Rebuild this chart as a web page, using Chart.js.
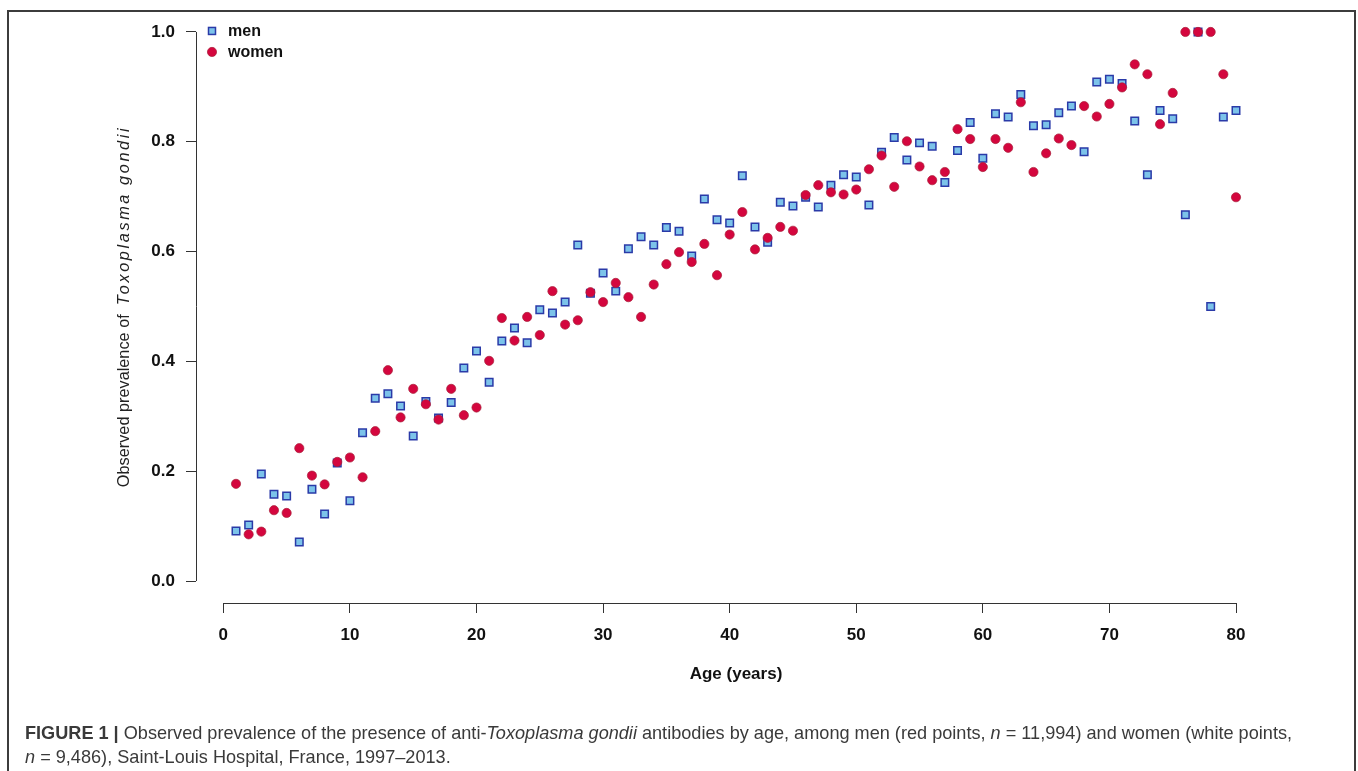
<!DOCTYPE html>
<html>
<head>
<meta charset="utf-8">
<script src="https://cdn.jsdelivr.net/npm/chart.js@4/dist/chart.umd.min.js"></script>
<style>
html,body{margin:0;padding:0;background:#fff;width:1358px;height:771px;overflow:hidden;}
#frame{position:absolute;left:7px;top:10px;width:1349px;height:800px;border:2px solid #3c3c3c;box-sizing:border-box;}
#c{position:absolute;left:0;top:0;}
#cap{position:absolute;left:25px;top:721px;font-family:"Liberation Sans",Arial,sans-serif;font-size:16px;color:#3a3a3a;line-height:24px;white-space:nowrap;}
</style>
</head>
<body>
<div id="frame"></div>
<canvas id="c" width="1358" height="771"></canvas>
<div id="cap"><span id="l1"><b>FIGURE 1 |</b> Observed prevalence of the presence of anti-<i>Toxoplasma gondii</i> antibodies by age, among men (red points, <i>n</i> = 11,994) and women (white points,</span><br><span id="l2"><i>n</i> = 9,486), Saint-Louis Hospital, France, 1997–2013.</span></div>
<script>
// ---- data ----
const AGES = [1,2,3,4,5,6,7,8,9,10,11,12,13,14,15,16,17,18,19,20,21,22,23,24,25,26,27,28,29,30,31,32,33,34,35,36,37,38,39,40,41,42,43,44,45,46,47,48,49,50,51,52,53,54,55,56,57,58,59,60,61,62,63,64,65,66,67,68,69,70,71,72,73,74,75,76,77,78,79,80];
const MEN = [0.091,0.102,0.195,0.158,0.155,0.071,0.167,0.122,0.215,0.146,
             0.270,0.333,0.341,0.319,0.264,0.327,0.297,0.325,0.388,0.419,
             0.362,0.437,0.461,0.434,0.494,0.488,0.508,0.612,0.524,0.561,
             0.528,0.605,0.627,0.612,0.644,0.637,0.592,0.696,0.658,0.652,
             0.738,0.645,0.617,0.690,0.683,0.699,0.681,0.721,0.740,0.736,
             0.685,0.781,0.808,0.767,0.798,0.792,0.726,0.784,0.835,0.770,
             0.851,0.845,0.886,0.829,0.831,0.853,0.865,0.782,0.909,0.914,
             0.906,0.838,0.740,0.857,0.842,0.667,1.000,0.500,0.845,0.857];
const WOMEN = [0.177,0.085,0.090,0.129,0.124,0.242,0.192,0.176,0.217,0.225,
               0.189,0.273,0.384,0.298,0.350,0.322,0.294,0.350,0.302,0.316,
               0.401,0.479,0.438,0.481,0.448,0.528,0.467,0.475,0.526,0.508,
               0.543,0.517,0.481,0.540,0.577,0.599,0.581,0.614,0.557,0.631,
               0.672,0.604,0.625,0.645,0.638,0.703,0.721,0.708,0.704,0.713,
               0.750,0.775,0.718,0.801,0.755,0.730,0.745,0.823,0.805,0.754,
               0.805,0.789,0.872,0.745,0.779,0.806,0.794,0.865,0.846,0.869,
               0.899,0.941,0.923,0.832,0.889,1.000,1.000,1.000,0.923,0.699];
const X_TICKS = [0,10,20,30,40,50,60,70,80];
const Y_TICKS = [0,0.2,0.4,0.6,0.8,1.0];
const SERIES_NAMES = ['men','women'];
const X_TITLE = 'Age (years)';
const Y_TITLE_PLAIN = 'Observed prevalence of';
const Y_TITLE_ITALIC = 'Toxoplasma gondii';

const FAM = '"Liberation Sans", Arial, Helvetica, sans-serif';
const MEN_STYLE = {fill:'#7cc3ea', stroke:'#2a3aa8'};
const WOMEN_STYLE = {fill:'#d4063e', stroke:'#a8203a'};

const rAxes = {
  id:'rAxes',
  afterDraw(chart){
    const ctx = chart.ctx, xs = chart.scales.x, ys = chart.scales.y, ca = chart.chartArea;
    ctx.save();
    ctx.strokeStyle = '#333'; ctx.lineWidth = 1;
    ctx.beginPath();
    ctx.moveTo(ca.left + 0.5, ys.getPixelForValue(Y_TICKS[0]));
    ctx.lineTo(ca.left + 0.5, ys.getPixelForValue(Y_TICKS[Y_TICKS.length-1]));
    ctx.moveTo(xs.getPixelForValue(X_TICKS[0]), ca.bottom + 0.5);
    ctx.lineTo(xs.getPixelForValue(X_TICKS[X_TICKS.length-1]), ca.bottom + 0.5);
    ctx.stroke();

    // y title (rotated, mixed fonts)
    const fs = 16.3;
    ctx.fillStyle = '#222';
    ctx.font = fs + 'px ' + FAM;
    const w1 = ctx.measureText(Y_TITLE_PLAIN + '  ').width;
    ctx.font = 'italic ' + fs + 'px ' + FAM;
    ctx.letterSpacing = '2.6px';
    const w2 = ctx.measureText(Y_TITLE_ITALIC).width;
    const total = w1 + w2;
    const cy = (ca.top + ca.bottom) / 2;
    ctx.translate(129, cy + total/2);
    ctx.rotate(-Math.PI/2);
    ctx.textBaseline = 'alphabetic'; ctx.textAlign = 'left';
    ctx.letterSpacing = '0px';
    ctx.font = fs + 'px ' + FAM;
    ctx.fillText(Y_TITLE_PLAIN, 0, 0);
    ctx.font = 'italic ' + fs + 'px ' + FAM;
    ctx.letterSpacing = '2.6px';
    ctx.fillText(Y_TITLE_ITALIC, w1, 0);
    ctx.restore();

    // legend (top-left inside plot region)
    ctx.save();
    const lx = ca.left + 16, ly = ys.getPixelForValue(1.0) - 1;
    const styles = [MEN_STYLE, WOMEN_STYLE];
    SERIES_NAMES.forEach((nm, i) => {
      const y = ly + i * 21;
      const st = styles[i];
      ctx.fillStyle = st.fill; ctx.strokeStyle = st.stroke;
      if (i === 0) {
        ctx.lineWidth = 1.5;
        ctx.fillRect(lx - 3.5, y - 3.5, 7, 7);
        ctx.strokeRect(lx - 3.5, y - 3.5, 7, 7);
      } else {
        ctx.lineWidth = 0.7;
        ctx.beginPath(); ctx.arc(lx, y, 4.6, 0, Math.PI*2); ctx.fill(); ctx.stroke();
      }
      ctx.fillStyle = '#111';
      ctx.font = 'bold 16px ' + FAM;
      ctx.textBaseline = 'middle'; ctx.textAlign = 'left';
      ctx.fillText(nm, lx + 16, y + 1);
    });
    ctx.restore();
  }
};

const tickFont = {family: FAM, size: 17, weight: 'bold'};

new Chart(document.getElementById('c'), {
  type: 'scatter',
  data: {
    datasets: [
      {label: SERIES_NAMES[0], data: AGES.map((a,i)=>({x:a, y:MEN[i]})), order: 1,
       pointStyle:'rect', pointRadius:5.3, backgroundColor:MEN_STYLE.fill, borderColor:MEN_STYLE.stroke, borderWidth:1.5},
      {label: SERIES_NAMES[1], data: AGES.map((a,i)=>({x:a, y:WOMEN[i]})), order: 0,
       pointStyle:'circle', pointRadius:4.6, backgroundColor:WOMEN_STYLE.fill, borderColor:WOMEN_STYLE.stroke, borderWidth:0.7}
    ]
  },
  options: {
    responsive: false, animation: false, devicePixelRatio: 1,
    layout: {padding: {left: 0, top: 10, right: 82, bottom: 0}},
    plugins: {legend: {display: false}, tooltip: {enabled: false}},
    events: [],
    scales: {
      x: {
        type: 'linear', min: -2.16, max: 83.16,
        afterBuildTicks: s => { s.ticks = X_TICKS.map(v => ({value: v})); },
        afterFit: s => { s.height = 168; s.paddingLeft = 0; s.paddingRight = 0; },
        grid: {drawOnChartArea: false, drawTicks: true, tickLength: 10, color: '#333', lineWidth: 1},
        border: {display: false},
        ticks: {font: tickFont, color: '#111', padding: 12, maxRotation: 0, autoSkip: false, callback: v => String(v)},
        title: {display: true, text: X_TITLE, font: {family: FAM, size: 17, weight: 'bold'}, color: '#111', padding: {top: 0, bottom: 86}}
      },
      y: {
        type: 'linear', min: -0.04, max: 1.04,
        afterBuildTicks: s => { s.ticks = Y_TICKS.map(v => ({value: v})); },
        afterFit: s => { s.width = 196; s.paddingTop = 0; s.paddingBottom = 0; },
        grid: {drawOnChartArea: false, drawTicks: true, tickLength: 10, color: '#333', lineWidth: 1},
        border: {display: false},
        ticks: {font: tickFont, color: '#111', padding: 11, autoSkip: false, callback: v => Number(v).toFixed(1)}
      }
    }
  },
  plugins: [rAxes]
});

// fit caption first line width to reference by font size
(function(){
  const l1 = document.getElementById('l1'), cap = document.getElementById('cap');
  const target = 1268;
  const w = l1.getBoundingClientRect().width;
  cap.style.fontSize = (16 * target / w).toFixed(2) + 'px';
})();
</script>
</body>
</html>
